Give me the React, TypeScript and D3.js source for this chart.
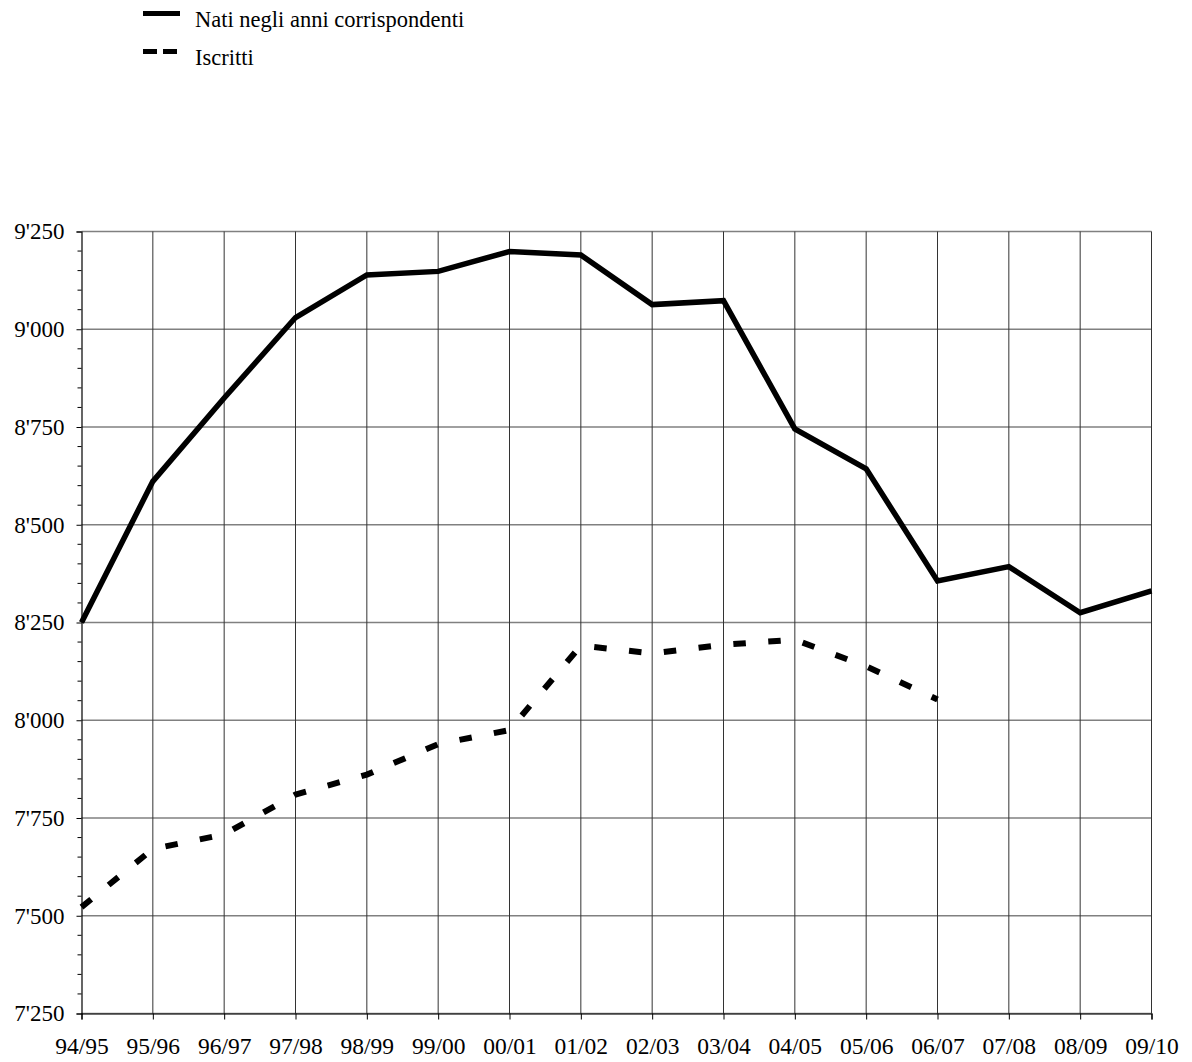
import React, { useEffect, useRef } from "react";
import * as d3 from "d3";

const years = [
  "94/95", "95/96", "96/97", "97/98", "98/99", "99/00", "00/01", "01/02",
  "02/03", "03/04", "04/05", "05/06", "06/07", "07/08", "08/09", "09/10",
];
const nati = [8250, 8611, 8824, 9030, 9139, 9148, 9199, 9190, 9063, 9073, 8745, 8643, 8356, 8393, 8275, 8331];
const iscritti = [7522, 7671, 7708, 7810, 7861, 7939, 7975, 8191, 8171, 8193, 8206, 8138, 8053];
const yTicks = [7250, 7500, 7750, 8000, 8250, 8500, 8750, 9000, 9250];
const legendLabels = ["Nati negli anni corrispondenti", "Iscritti"];

const App = () => {
  const svgRef = useRef<SVGSVGElement>(null);

  useEffect(() => {
    const w = 1192;
    const h = 1062;
    const svg = d3.select(svgRef.current).attr("width", w).attr("height", h);
    svg.selectAll("*").remove();

    const font = "'Liberation Serif', 'Times New Roman', serif";
    const x = d3.scalePoint().domain(years).range([81.5, 1151.5]);
    const y = d3.scaleLinear().domain([7250, 9250]).range([1013.5, 231.5]);
    const fmt = d3.formatLocale({ decimal: ".", thousands: "'", grouping: [3], currency: ["", ""] }).format(",");

    // horizontal grid
    svg.append("g")
      .selectAll("line")
      .data(yTicks)
      .join("line")
      .attr("x1", x(years[0])!)
      .attr("x2", x(years[years.length - 1])!)
      .attr("y1", (d) => y(d))
      .attr("y2", (d) => y(d))
      .attr("stroke", "#808080")
      .attr("stroke-width", 1.5);

    // vertical grid
    svg.append("g")
      .selectAll("line")
      .data(years.slice(1))
      .join("line")
      .attr("x1", (d) => x(d)!)
      .attr("x2", (d) => x(d)!)
      .attr("y1", y(9250))
      .attr("y2", y(7250))
      .attr("stroke", "#333")
      .attr("stroke-width", 1);

    // y axis
    const yAxis = d3.axisLeft(y).tickValues(yTicks).tickSize(5).tickFormat((d) => fmt(d as number));
    const gy = svg.append("g").attr("transform", `translate(${x(years[0])},0)`).call(yAxis);
    gy.attr("font-family", font);
    gy.select(".domain").attr("stroke", "#000").attr("stroke-width", 1.2);
    gy.selectAll("text").attr("font-family", font).attr("font-size", 23).attr("fill", "#000").attr("x", -17);
    const minor = d3.range(7250, 9251, 50).filter((v) => !yTicks.includes(v));
    gy.append("g")
      .selectAll("line")
      .data(minor)
      .join("line")
      .attr("x1", -4)
      .attr("x2", 0)
      .attr("y1", (d) => y(d))
      .attr("y2", (d) => y(d))
      .attr("stroke", "#000");

    // x axis
    const xAxis = d3.axisBottom(x).tickSize(6).tickPadding(18);
    const gx = svg.append("g").attr("transform", `translate(0,${y(7250)})`).call(xAxis);
    gx.attr("font-family", font);
    gx.select(".domain").attr("stroke", "#000").attr("stroke-width", 1.2);
    gx.selectAll("text").attr("font-family", font).attr("font-size", 23.5).attr("fill", "#000");

    const line = d3
      .line<number>()
      .x((d, i) => x(years[i])!)
      .y((d) => y(d));

    svg.append("path")
      .datum(nati)
      .attr("d", line)
      .attr("fill", "none")
      .attr("stroke", "#000")
      .attr("stroke-width", 5.5)
      .attr("stroke-linejoin", "miter");

    svg.append("path")
      .datum(iscritti)
      .attr("d", line)
      .attr("fill", "none")
      .attr("stroke", "#000")
      .attr("stroke-width", 6)
      .attr("stroke-dasharray", "12.5,22.5");

    // legend
    const lg = svg.append("g");
    lg.append("line").attr("x1", 143).attr("x2", 180).attr("y1", 13.5).attr("y2", 13.5)
      .attr("stroke", "#000").attr("stroke-width", 5);
    lg.append("line").attr("x1", 143).attr("x2", 180).attr("y1", 51.5).attr("y2", 51.5)
      .attr("stroke", "#000").attr("stroke-width", 5).attr("stroke-dasharray", "14,6");
    lg.selectAll("text")
      .data(legendLabels)
      .join("text")
      .attr("x", 195)
      .attr("y", (d, i) => (i === 0 ? 26.5 : 65))
      .attr("font-family", font)
      .attr("font-size", 22.5)
      .attr("fill", "#000")
      .text((d) => d);
  }, []);

  return <svg ref={svgRef} style={{ position: "absolute", left: 0, top: 0, background: "#fff" }}></svg>;
};

export default App;
